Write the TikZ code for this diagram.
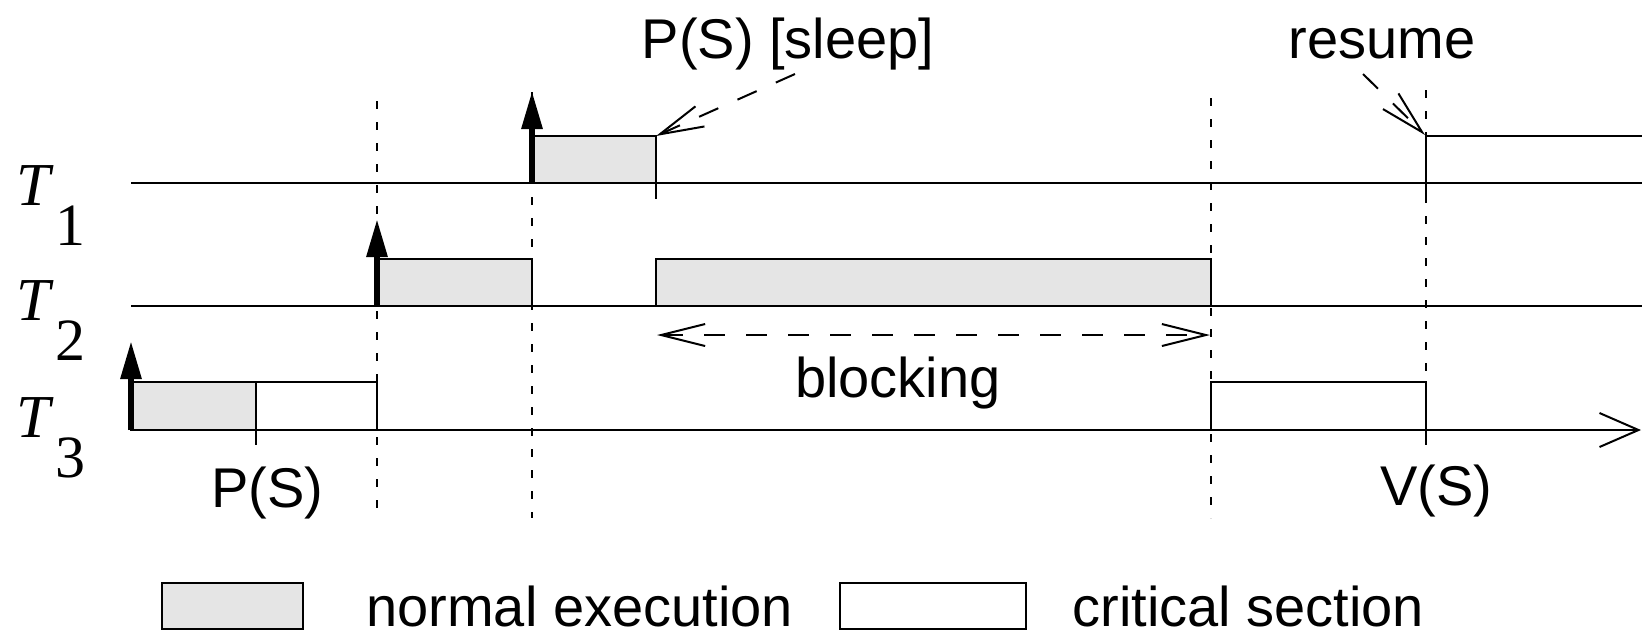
\documentclass[tikz,border=0pt]{standalone}
\usepackage{fontspec}
\setmainfont{Liberation Sans}
\newfontfamily\tfont{Liberation Serif}
\usetikzlibrary{arrows.meta}
\definecolor{exgray}{RGB}{229,229,229}
\begin{document}
\begin{tikzpicture}[x=0.5pt,y=-0.5pt,
  axis/.style={line width=1pt},
  boxline/.style={line width=1pt, draw=black},
  exec/.style={boxline, fill=exgray},
  release/.style={line width=3pt, -{Triangle[length=19pt,width=10pt]}},
  guide/.style={line width=1.1pt, dash pattern=on 4pt off 6.5pt},
  note/.style={line width=1pt, dash pattern=on 10.5pt off 10.5pt, -{Straight Barb[length=22pt,width=11pt]}},
  lbl/.style={font=\fontsize{28}{34}\selectfont, inner sep=0pt, anchor=base},
  legtxt/.style={font=\fontsize{28}{34}\selectfont, inner sep=0pt, anchor=base west},
  tlab/.style={font=\tfont\itshape\fontsize{30.5}{36}\selectfont, inner sep=0pt, anchor=base west},
  tsub/.style={font=\tfont\fontsize{30}{36}\selectfont, inner sep=0pt, anchor=base west}]
\useasboundingbox (0,0) rectangle (1642,634);

% dotted guide lines
\draw[guide] (377,101) -- (377,518);
\draw[guide] (532,92) -- (532,518);
\draw[guide] (1211,98) -- (1211,518);
\draw[guide] (1426,90) -- (1426,430);

% task lines
\coordinate (l1s) at (131,183); \coordinate (l1e) at (1642,183);
\coordinate (l2s) at (131,306); \coordinate (l2e) at (1642,306);
\coordinate (l3s) at (131,430); \coordinate (l3e) at (1641,430);

% boxes
\draw[exec] (532,136) rectangle (656,183);
\draw[exec] (377,259) rectangle (532,306);
\draw[exec] (656,259) rectangle (1211,306);
\draw[exec] (131,382) rectangle (256,430);
\draw[boxline] (256,382) rectangle (377,430);
\draw[boxline] (1211,382) rectangle (1426,430);
\draw[boxline] (1426,199) -- (1426,136) -- (1642,136);

\draw[axis] (l1s) -- (l1e);
\draw[axis] (l2s) -- (l2e);
\draw[axis, -{Straight Barb[length=19.5pt,width=17pt]}] (l3s) -- (l3e);

% ticks
\draw[axis] (656,183) -- (656,199);
\draw[axis] (256,430) -- (256,445);
\draw[axis] (1426,430) -- (1426,445);

% release arrows
\coordinate (r1a) at (532,183); \coordinate (r1b) at (532,91);
\coordinate (r2a) at (377,306); \coordinate (r2b) at (377,219);
\coordinate (r3a) at (131,430); \coordinate (r3b) at (131,341);
\draw[release] (r1a) -- (r1b);
\draw[release] (r2a) -- (r2b);
\draw[release] (r3a) -- (r3b);

% labels
\node[lbl] (sleep) at (788,58) {P(S) [sleep]};
\node[lbl] (resume) at (1382,58) {resume};
\node[lbl] (blocking) at (898,397) {blocking};
\node[lbl] (ps) at (267,507) {P(S)};
\node[lbl] (vs) at (1436,505) {V(S)};

\coordinate (sleepfrom) at (795,74);
\coordinate (sleepto) at (656,136);
\draw[note] (sleepfrom) -- (sleepto);
\coordinate (resfrom) at (1363,74);
\coordinate (resto) at (1425,135);
\draw[note] (resfrom) -- (resto);
\coordinate (bl) at (657,335);
\coordinate (br) at (1210,335);
\draw[note, {Straight Barb[length=22pt,width=11pt]}-{Straight Barb[length=22pt,width=11pt]}] (bl) -- (br);

% task names
\node[tlab] (T1) at (16,205) {T};
\node[tsub] (T1s) at (55,245) {1};
\node[tlab] (T2) at (16,320) {T};
\node[tsub] (T2s) at (55,360) {2};
\node[tlab] (T3) at (16,437) {T};
\node[tsub] (T3s) at (55,477) {3};

% legend
\draw[exec] (162,583) rectangle (303,629);
\node[legtxt] (legn) at (366,626) {normal execution};
\draw[boxline] (840,583) rectangle (1026,629);
\node[legtxt] (legc) at (1072,626) {critical section};
\end{tikzpicture}
\end{document}
